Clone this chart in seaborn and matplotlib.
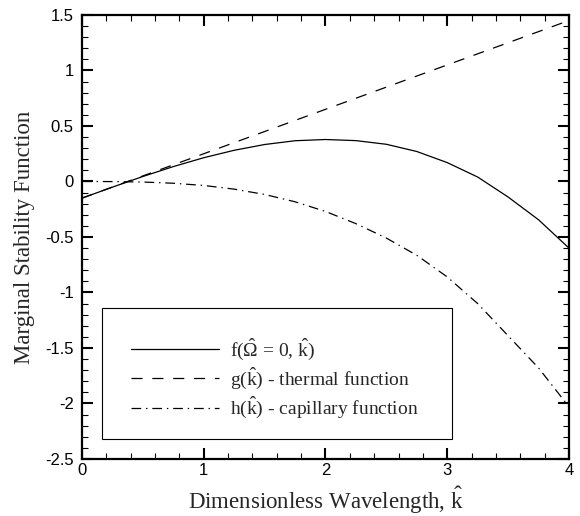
import numpy as np
import pandas as pd
import matplotlib
matplotlib.use("Agg")
import matplotlib.pyplot as plt
from matplotlib.patches import Rectangle
from matplotlib.ticker import MultipleLocator, FormatStrFormatter
import seaborn as sns


# dimensionless wavelength k-hat, every 0.25
K_HAT = [0.0, 0.25, 0.5, 0.75, 1.0, 1.25, 1.5, 1.75, 2.0,
         2.25, 2.5, 2.75, 3.0, 3.25, 3.5, 3.75, 4.0]

# f(Omega = 0, k) - marginal stability function (solid)
F_VALUES = [-0.15, -0.051, 0.045, 0.134, 0.214, 0.281, 0.333, 0.367, 0.378,
            0.368, 0.335, 0.27, 0.17, 0.04, -0.14, -0.345, -0.60]

# g(k) - thermal function (dashed)
G_VALUES = [-0.15, -0.05, 0.05, 0.15, 0.25, 0.35, 0.45, 0.55, 0.65,
            0.75, 0.85, 0.95, 1.05, 1.15, 1.25, 1.35, 1.45]

# h(k) - capillary function (dash-dot)
H_VALUES = [0.0, -0.001, -0.005, -0.016, -0.036, -0.069, -0.117, -0.183, -0.27,
            -0.38, -0.51, -0.665, -0.86, -1.10, -1.39, -1.68, -2.03]

LABELS = [
    r"f($\hat{\Omega}$ = 0, $\hat{\mathrm{k}}$)",
    r"g($\hat{\mathrm{k}}$) - thermal function",
    r"h($\hat{\mathrm{k}}$) - capillary function",
]
STYLES = ["-", (0, (8, 7)), (0, (7, 3.5, 1, 3.5))]


def build_frame():
    rows = []
    for label, values in zip(LABELS, [F_VALUES, G_VALUES, H_VALUES]):
        for k, v in zip(K_HAT, values):
            rows.append({"k": k, "value": v, "curve": label})
    return pd.DataFrame(rows)


def main():
    sns.set_style("ticks")
    plt.rcParams["font.family"] = ["Liberation Sans", "DejaVu Sans"]
    plt.rcParams["mathtext.fontset"] = "custom"
    plt.rcParams["mathtext.rm"] = "Liberation Serif"
    plt.rcParams["mathtext.it"] = "Liberation Serif:italic"
    plt.rcParams["axes.unicode_minus"] = False
    plt.rcParams["lines.scale_dashes"] = False

    df = build_frame()

    fig = plt.figure(figsize=(5.8, 5.16), dpi=100)
    ax = fig.add_axes([0.1414, 0.1105, 0.8396, 0.8605])

    for label, style in zip(LABELS, STYLES):
        sub = df[df["curve"] == label]
        sns.lineplot(data=sub, x="k", y="value", ax=ax, color="black",
                     linewidth=0.9, linestyle=style, label=label,
                     estimator=None, sort=False)

    ax.set_xlim(0, 4)
    ax.set_ylim(-2.5, 1.5)
    ax.xaxis.set_major_locator(MultipleLocator(1))
    ax.xaxis.set_minor_locator(MultipleLocator(0.2))
    ax.yaxis.set_major_locator(MultipleLocator(0.5))
    ax.yaxis.set_minor_locator(MultipleLocator(0.1))
    ax.xaxis.set_major_formatter(FormatStrFormatter("%g"))
    ax.yaxis.set_major_formatter(FormatStrFormatter("%g"))

    ax.tick_params(which="both", direction="in", top=True, right=True,
                   colors="black")
    ax.tick_params(which="major", length=8, width=1.5, labelsize=12)
    ax.tick_params(which="minor", length=4.5, width=0.8)
    ax.tick_params(axis="x", which="major", pad=3)
    ax.tick_params(axis="y", which="major", pad=6)
    for spine in ax.spines.values():
        spine.set_linewidth(1.6)
        spine.set_color("black")

    ax.set_xlabel(r"Dimensionless Wavelength, $\hat{\mathrm{k}}$",
                  family="Liberation Serif", fontsize=16.5, labelpad=5)
    ax.set_ylabel("Marginal Stability Function",
                  family="Liberation Serif", fontsize=16.5, labelpad=7)

    # legend frame drawn as a plain box, legend itself without frame
    box = Rectangle((0.041, 0.045), 0.719, 0.295, transform=ax.transAxes,
                    fill=True, facecolor="white", edgecolor="black",
                    linewidth=0.8, zorder=4)
    ax.add_patch(box)
    leg = ax.legend(loc="center left", bbox_to_anchor=(0.1006, 0.182),
                    frameon=False, borderaxespad=0, borderpad=0,
                    handlelength=4.5, handletextpad=0.6,
                    labelspacing=0.2, prop={"family": "Liberation Serif",
                                            "size": 14})
    leg.set_zorder(5)

    fig.savefig("out.png", dpi=100)


if __name__ == "__main__":
    main()
